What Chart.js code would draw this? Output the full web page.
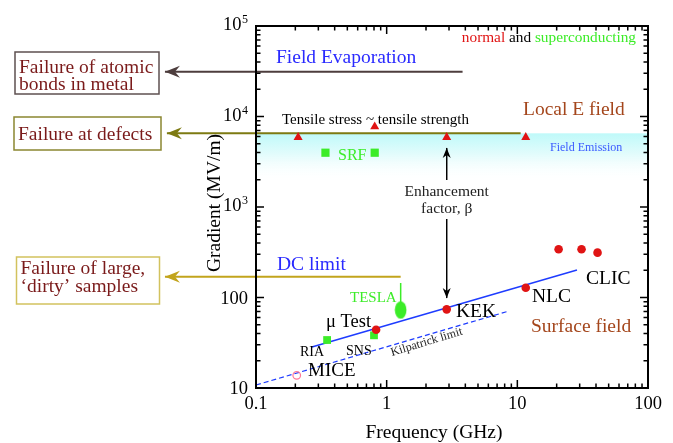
<!DOCTYPE html>
<html>
<head>
<meta charset="utf-8">
<script src="https://cdn.jsdelivr.net/npm/chart.js@4"></script>
<style>
  body { margin: 0; background: #fff; }
  #wrap { width: 673px; height: 443px; }
</style>
</head>
<body>
<div id="wrap"><canvas id="chart" width="673" height="443"></canvas></div>
<script>
// --- data (GHz, MV/m) ---
const triFreq = [0.21, 0.81, 2.88, 11.6];
const triGrad = [5890, 7710, 5890, 5890];
const srfFreq = [0.34, 0.81];
const srfGrad = [3980, 3980];
const ncFreq = [0.83, 2.88, 11.6, 20.7, 31, 41.1];
const ncGrad = [44, 74, 128, 341, 341, 313];
const scFreq = [0.35, 0.80];
const scGrad = [33.9, 38.2];
const miceFreq = [0.205];
const miceGrad = [13.8];
const teslaFreq = [1.28];
const teslaGrad = [72.8];
const teslaBarFreq = [1.28, 1.28];
const teslaBarGrad = [144.6, 80];
const fitFreq = [0.268, 28.6];
const fitGrad = [28.4, 201];
const kilpFreq = [0.1, 8.28];
const kilpGrad = [10.8, 69.7];
// limit lines: start at arrow tip (left of the axis), end inside plot
const evapFreq = [0.0201, 3.81];
const evapGrad = [31300, 31300];
const defectFreq = [0.0208, 10.6];
const defectGrad = [6520, 6520];
const dcFreq = [0.0201, 1.28];
const dcGrad = [170, 170];
const enhFreq = [2.88, 2.88];
const enhGrad = [4490, 98.6];
const bandGrad = [6520, 1900];

const freqTicks = [0.1, 1, 10, 100];
const freqTickLabels = ['0.1', '1', '10', '100'];
const gradTicks = [10, 100, 1000, 10000, 100000];
const gradTickBase = ['10', '100', '10', '10', '10'];
const gradTickExp = ['', '', '3', '4', '5'];

const RED = '#e01414';
const GREEN = '#3cec28';
const BLUE = '#1e3cff';
const SERIF = '"Liberation Serif", "DejaVu Serif", serif';

function pts(xs, ys){
  return xs.map((x, i) => ({x: x, y: ys[i]}));
}

// ellipse marker for TESLA
const ell = document.createElement('canvas');
ell.width = 13; ell.height = 19;
(function(){
  const c = ell.getContext('2d');
  c.fillStyle = GREEN;
  c.beginPath();
  c.ellipse(6.5, 9.5, 5.8, 8.8, 0, 0, Math.PI * 2);
  c.fill();
})();

function arrowHead(ctx, x, y, dir, color){
  ctx.save();
  ctx.fillStyle = color;
  ctx.beginPath();
  if(dir === 'left'){
    ctx.moveTo(x, y);
    ctx.lineTo(x + 15, y - 6);
    ctx.lineTo(x + 10, y);
    ctx.lineTo(x + 15, y + 6);
  } else if(dir === 'up'){
    ctx.moveTo(x, y);
    ctx.lineTo(x - 4, y + 10);
    ctx.lineTo(x, y + 7);
    ctx.lineTo(x + 4, y + 10);
  } else {
    ctx.moveTo(x, y);
    ctx.lineTo(x - 4, y - 10);
    ctx.lineTo(x, y - 7);
    ctx.lineTo(x + 4, y - 10);
  }
  ctx.closePath();
  ctx.fill();
  ctx.restore();
}

function text(ctx, s, x, y, size, color, align){
  ctx.font = size + 'px ' + SERIF;
  ctx.fillStyle = color;
  ctx.textAlign = align || 'left';
  ctx.textBaseline = 'alphabetic';
  ctx.fillText(s, x, y);
}

function box(ctx, x, y, w, h, color, lines, baselines){
  ctx.save();
  ctx.strokeStyle = color;
  ctx.lineWidth = 1.5;
  ctx.strokeRect(x, y, w, h);
  lines.forEach((l, i) => text(ctx, l, x + 4, baselines[i], 19.5, '#7a1a1a'));
  ctx.restore();
}

const decor = {
  id: 'decor',
  beforeDatasetsDraw(chart){
    const {ctx, chartArea: a, scales: {y}} = chart;
    const top = y.getPixelForValue(bandGrad[0]);
    const bot = y.getPixelForValue(bandGrad[1]);
    const g = ctx.createLinearGradient(0, top, 0, bot);
    g.addColorStop(0, '#bff9f9');
    g.addColorStop(0.45, '#e4fcfc');
    g.addColorStop(1, 'rgba(255,255,255,0)');
    ctx.save();
    ctx.fillStyle = g;
    ctx.fillRect(a.left, top, a.right - a.left, bot - top);
    ctx.restore();
  },
  afterDatasetsDraw(chart){
    const {ctx, chartArea: a, scales: {x, y}} = chart;
    ctx.save();

    // frame and inward ticks
    ctx.strokeStyle = '#000';
    ctx.lineWidth = 2;
    ctx.strokeRect(a.left, a.top, a.right - a.left, a.bottom - a.top);
    ctx.lineWidth = 1.5;
    ctx.beginPath();
    for(let d = 0.1; d < 100; d *= 10){
      for(let k = 1; k <= 10; k++){
        const px = x.getPixelForValue(d * k);
        const len = (k === 1 || k === 10) ? 8 : 4.5;
        ctx.moveTo(px, a.bottom); ctx.lineTo(px, a.bottom - len);
        ctx.moveTo(px, a.top); ctx.lineTo(px, a.top + len);
      }
    }
    for(let d = 10; d < 100000; d *= 10){
      for(let k = 1; k <= 10; k++){
        const py = y.getPixelForValue(d * k);
        const len = (k === 1 || k === 10) ? 8 : 4.5;
        ctx.moveTo(a.left, py); ctx.lineTo(a.left + len, py);
        ctx.moveTo(a.right, py); ctx.lineTo(a.right - len, py);
      }
    }
    ctx.stroke();

    // tick labels
    freqTicks.forEach((v, i) => {
      text(ctx, freqTickLabels[i], x.getPixelForValue(v), a.bottom + 21, 18.5, '#000', 'center');
    });
    gradTicks.forEach((v, i) => {
      const py = y.getPixelForValue(v);
      const exp = gradTickExp[i];
      let right = a.left - 8;
      if(exp){
        text(ctx, exp, right, py - 3, 12, '#000', 'right');
        right -= 6.5;
        text(ctx, gradTickBase[i], right, py + 4, 18.5, '#000', 'right');
      } else {
        text(ctx, gradTickBase[i], right, py + 6, 18.5, '#000', 'right');
      }
    });

    // axis titles
    text(ctx, 'Frequency (GHz)', 434, 438, 19.5, '#000', 'center');
    ctx.save();
    ctx.translate(220, 203);
    ctx.rotate(-Math.PI / 2);
    text(ctx, 'Gradient (MV/m)', 0, 0, 19.5, '#000', 'center');
    ctx.restore();

    // arrow heads of limit lines
    arrowHead(ctx, x.getPixelForValue(evapFreq[0]), y.getPixelForValue(evapGrad[0]), 'left', '#4d3d3d');
    arrowHead(ctx, x.getPixelForValue(defectFreq[0]), y.getPixelForValue(defectGrad[0]), 'left', '#7d7a12');
    arrowHead(ctx, x.getPixelForValue(dcFreq[0]), y.getPixelForValue(dcGrad[0]), 'left', '#c2a41c');

    // enhancement factor arrow
    const ex = x.getPixelForValue(enhFreq[0]);
    arrowHead(ctx, ex, y.getPixelForValue(enhGrad[0]), 'up', '#000');
    arrowHead(ctx, ex, y.getPixelForValue(enhGrad[1]), 'down', '#000');
    ctx.fillStyle = '#fff';
    ctx.fillRect(ex - 46, 180, 92, 39);
    text(ctx, 'Enhancement', ex, 196, 15.5, '#222', 'center');
    text(ctx, 'factor, \u03b2', ex, 213, 15.5, '#222', 'center');

    // boxes on the left
    box(ctx, 15, 52, 144, 42, '#5e5050', ['Failure of atomic', 'bonds in metal'], [73, 90]);
    box(ctx, 14, 117, 147, 33, '#8a8630', ['Failure at defects'], [139.5]);
    box(ctx, 16.5, 257, 143, 47, '#d2c25e', ['Failure of large,', '\u2018dirty\u2019 samples'], [273.5, 292]);

    // labels inside plot
    text(ctx, 'Field Evaporation', 276, 63, 19.5, '#2a2aff');
    ctx.font = '15.3px ' + SERIF;
    const w1 = ctx.measureText('normal ').width;
    const w2 = ctx.measureText('and ').width;
    const w3 = ctx.measureText('superconducting').width;
    let sx = 636 - (w1 + w2 + w3);
    text(ctx, 'normal ', sx, 42, 15.3, RED);
    text(ctx, 'and ', sx + w1, 42, 15.3, '#000');
    text(ctx, 'superconducting', sx + w1 + w2, 42, 15.3, GREEN);
    text(ctx, 'Local E field', 523, 115, 19.5, '#a4461c');
    text(ctx, 'Tensile stress ~ tensile strength', 282, 124, 15, '#000');
    text(ctx, 'Field Emission', 550, 151, 12, '#3a5aff');
    text(ctx, 'SRF', 338, 160, 16, GREEN);
    text(ctx, 'DC limit', 277, 270, 19.5, '#2a2aff');
    text(ctx, 'TESLA', 350, 302, 15, GREEN);
    text(ctx, '\u03bc Test', 326, 327, 18.5, '#000');
    text(ctx, 'KEK', 456, 317, 19.5, '#000');
    text(ctx, 'NLC', 532, 302, 19.5, '#000');
    text(ctx, 'CLIC', 586, 284, 19.5, '#000');
    text(ctx, 'Surface field', 531, 332, 19.5, '#a4461c');
    text(ctx, 'RIA', 300, 356, 14, '#000');
    text(ctx, 'SNS', 346, 355, 14, '#000');
    text(ctx, 'MICE', 308, 376, 19, '#000');
    ctx.save();
    ctx.translate(392, 356);
    ctx.rotate(-17 * Math.PI / 180);
    text(ctx, 'Kilpatrick limit', 0, 0, 12, '#222');
    ctx.restore();

    ctx.restore();
  }
};

function lineSet(xs, ys, color, width, dash){
  return {
    data: pts(xs, ys),
    showLine: true,
    borderColor: color,
    borderWidth: width,
    borderDash: dash || [],
    pointRadius: 0,
    clip: false
  };
}

const datasets = [
  {data: pts(triFreq, triGrad), pointStyle: 'triangle', pointRadius: 5.2, backgroundColor: RED, borderColor: RED, borderWidth: 0},
  {data: pts(srfFreq, srfGrad), pointStyle: 'rect', pointRadius: 5.8, backgroundColor: GREEN, borderColor: GREEN, borderWidth: 0},
  {data: pts(ncFreq, ncGrad), pointStyle: 'circle', pointRadius: 4.3, backgroundColor: RED, borderColor: RED, borderWidth: 0},
  {data: pts(scFreq, scGrad), pointStyle: 'rect', pointRadius: 5.5, backgroundColor: GREEN, borderColor: GREEN, borderWidth: 0},
  {data: pts(miceFreq, miceGrad), pointStyle: 'circle', pointRadius: 3.8, backgroundColor: 'rgba(0,0,0,0)', borderColor: '#ff7898', borderWidth: 1.2},
  {data: pts(teslaFreq, teslaGrad), pointStyle: ell, pointRadius: 9},
  lineSet(teslaBarFreq, teslaBarGrad, GREEN, 1.5),
  lineSet(fitFreq, fitGrad, BLUE, 1.5),
  lineSet(kilpFreq, kilpGrad, BLUE, 1.2, [5, 3]),
  lineSet(evapFreq, evapGrad, '#4d3d3d', 2),
  lineSet(defectFreq, defectGrad, '#7d7a12', 2),
  lineSet(dcFreq, dcGrad, '#c2a41c', 2),
  lineSet(enhFreq, enhGrad, '#000', 1)
];

new Chart(document.getElementById('chart').getContext('2d'), {
  type: 'scatter',
  data: {datasets: datasets},
  options: {
    responsive: false,
    animation: false,
    layout: {padding: {left: 256, right: 25, top: 26, bottom: 55}},
    plugins: {legend: {display: false}, tooltip: {enabled: false}},
    scales: {
      x: {type: 'logarithmic', min: 0.1, max: 100, display: false},
      y: {type: 'logarithmic', min: 10, max: 100000, display: false}
    }
  },
  plugins: [decor]
});
</script>
</body>
</html>
